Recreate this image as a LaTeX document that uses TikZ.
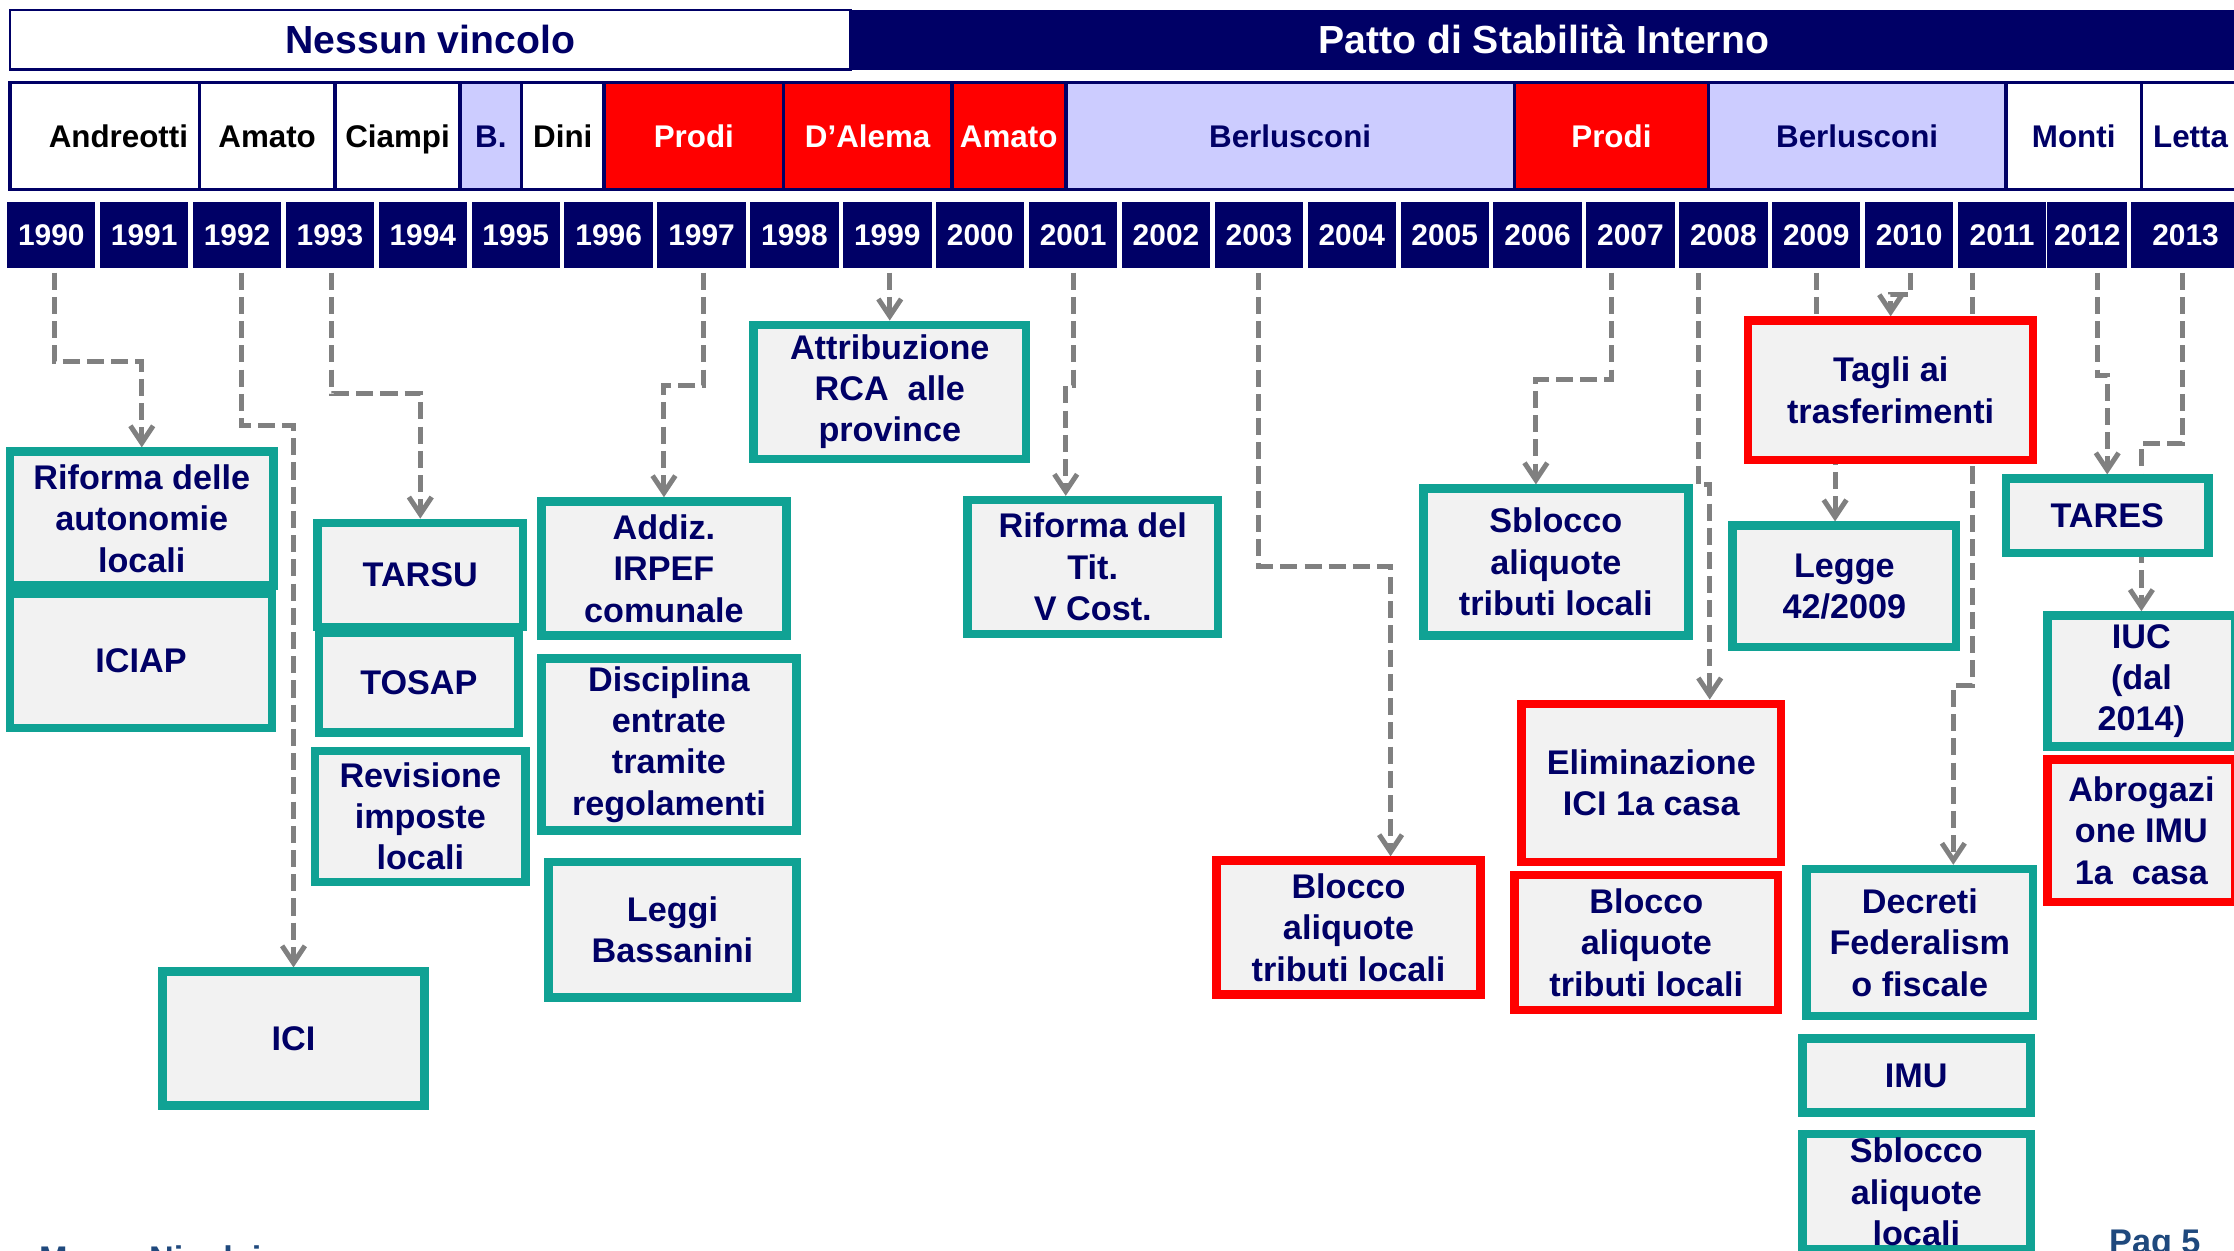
\documentclass[tikz,border=0pt]{standalone}
\usepackage{fontspec}
\setmainfont{Liberation Sans}
\usetikzlibrary{arrows.meta,calc}

\definecolor{navy}{HTML}{000066}
\definecolor{boxteal}{HTML}{10A294}
\definecolor{boxfill}{HTML}{F2F2F2}
\definecolor{govlav}{HTML}{CCCCFF}
\definecolor{linkgray}{HTML}{808080}
\definecolor{footblue}{HTML}{1F497D}

\pgfdeclarelayer{background}
\pgfsetlayers{background,main}

% event box: name, x1, y1, x2, y2 (outer edges), style, text
\newcommand\tbox[7]{%
  \node[#6, minimum width={(#4-#2-6)*0.5pt}, minimum height={(#5-#3-6)*0.5pt}]
    (#1) at ({(#2+#4)/2},{(#3+#5)/2}) {#7};}
% government cell: name, x1, x2, fill, text colour, text
\newcommand\govcell[6]{%
  \node[govbox, fill=#4, text=#5, minimum width={(#3-#2)*0.5pt}]
    (#1) at ({(#2+#3)/2},95.5) {#6};}

\begin{document}
\begin{tikzpicture}[x=0.5pt,y=-0.5pt,
  tealbox/.style={draw=boxteal, line width=3pt, fill=boxfill, text=navy,
    font=\bfseries\fontsize{12}{14.5}\selectfont, align=center, inner sep=0pt},
  redbox/.style={tealbox, draw=red},
  govbox/.style={draw=navy, line width=1.25pt, minimum height=37.5pt, inner sep=0pt,
    font=\bfseries\fontsize{11}{13}\selectfont, text height=7.9pt, text depth=0pt},
  yearcell/.style={fill=navy, text=white, font=\bfseries\fontsize{10.5}{12}\selectfont,
    minimum width=31pt, minimum height=23.25pt, inner sep=0pt, text height=7.5pt, text depth=0pt},
  topcell/.style={inner sep=0pt, font=\bfseries\fontsize{13.75}{16}\selectfont,
    text height=9.85pt, text depth=0pt},
  footer/.style={inner sep=0pt, text=footblue, font=\bfseries\fontsize{12}{14}\selectfont},
  link/.style={draw=linkgray, line width=1.75pt, dash pattern=on 6pt off 2.5pt,
    shorten <=1.5pt, -{Straight Barb[length=6pt,width=8pt]}},
]
\useasboundingbox (0,0) rectangle (1568,878);
\clip (0,0) rectangle (1568,878);

% fiscal rule periods
\node[topcell, draw=navy, line width=1pt, fill=white, text=navy,
  minimum width=295pt, minimum height=21pt] (nessun) at (302,28) {Nessun vincolo};
\node[topcell, fill=navy, text=white, minimum width=486.5pt, minimum height=21pt]
  (patto) at (1083.5,28) {Patto di Stabilità Interno};

% governments
\node[govbox, fill=white, text=black, minimum width=66.5pt, text width=58.5pt,
  inner xsep=4pt, align=right] (gAndreotti) at (73.5,95.5) {Andreotti};
\govcell{gAmato}{140}{235}{white}{black}{Amato}
\govcell{gCiampi}{235}{323}{white}{black}{Ciampi}
\govcell{gB}{323}{366}{govlav}{navy}{B.}
\govcell{gDini}{366}{424}{white}{black}{Dini}
\govcell{gProdi}{424}{550}{red}{white}{Prodi}
\govcell{gDAlema}{550}{668}{red}{white}{D’Alema}
\govcell{gAmatoB}{668}{748}{red}{white}{Amato}
\govcell{gBerlusconi}{748}{1063}{govlav}{navy}{Berlusconi}
\govcell{gProdiB}{1063}{1199}{red}{white}{Prodi}
\govcell{gBerlusconiB}{1199}{1408}{govlav}{navy}{Berlusconi}
\govcell{gMonti}{1408}{1503}{white}{navy}{Monti}
\govcell{gLetta}{1503}{1572}{white}{navy}{Letta}

% years
\foreach \yr [count=\i from 0] in {1990,...,2011}
  \node[yearcell] (y\yr) at ({36+\i*65.2},164.75) {\yr};
\node[yearcell, minimum width=28pt] (y2012) at (1465,164.75) {2012};
\node[yearcell, minimum width=38pt] (y2013) at (1534,164.75) {2013};

% events
\tbox{raut}{4}{314}{195}{414}{tealbox}{Riforma delle\\autonomie\\locali}
\tbox{iciap}{4}{414}{194}{514}{tealbox}{ICIAP}
\tbox{ici}{111}{679}{301}{779}{tealbox}{ICI}
\tbox{tarsu}{220}{364}{370}{443}{tealbox}{TARSU}
\tbox{tosap}{221}{441}{367}{517}{tealbox}{TOSAP}
\tbox{revis}{218}{524}{372}{622}{tealbox}{Revisione\\imposte\\locali}
\tbox{addiz}{377}{349}{555}{449}{tealbox}{Addiz.\\IRPEF\\comunale}
\tbox{discip}{377}{459}{562}{586}{tealbox}{Disciplina\\entrate\\tramite\\regolamenti}
\tbox{bassa}{382}{602}{562}{703}{tealbox}{Leggi\\Bassanini}
\tbox{rca}{526}{225}{723}{325}{tealbox}{Attribuzione\\RCA\ \ alle\\province}
\tbox{rtit}{676}{348}{858}{448}{tealbox}{Riforma del\\Tit.\\V Cost.}
\tbox{bloccoA}{851}{601}{1042}{701}{redbox}{Blocco\\aliquote\\tributi locali}
\tbox{sbloccoA}{996}{340}{1188}{449}{tealbox}{Sblocco\\aliquote\\tributi locali}
\tbox{elim}{1065}{491}{1253}{608}{redbox}{Eliminazione\\ICI 1a casa}
\tbox{bloccoB}{1060}{611}{1251}{712}{redbox}{Blocco\\aliquote\\tributi locali}
\tbox{tagli}{1224}{222}{1430}{326}{redbox}{Tagli ai\\trasferimenti}
\tbox{legge}{1213}{366}{1376}{457}{tealbox}{Legge\\42/2009}
\tbox{decreti}{1265}{607}{1430}{716}{tealbox}{Decreti\\Federalism\\o fiscale}
\tbox{imu}{1262}{726}{1428}{784}{tealbox}{IMU}
\tbox{sbloccoB}{1262}{793}{1428}{880}{tealbox}{Sblocco\\aliquote\\locali}
\tbox{tares}{1405}{333}{1553}{391}{tealbox}{TARES}
\tbox{iuc}{1434}{429}{1572}{527}{tealbox}{IUC\\(dal\\2014)}
\tbox{abrog}{1434}{530}{1572}{636}{redbox}{Abrogazi\\one IMU\\1a\ \ casa}

% footer
\node[footer, anchor=base west] (author) at (27,892) {Marco Nicolai};
\node[footer, anchor=base west] (page) at (1480,880) {Pag 5};

% links from years to events, behind the boxes
\begin{pgfonlayer}{background}
\draw[link] ($(y1990.south)+(2,0)$) -- ++(0,65) -| (raut.north);
\draw[link] ($(y1992.south)+(2.8,0)$) -- ++(0,110) -| (ici.north);
\draw[link] ($(y1993.south)+(1.4,0)$) -- ++(0,88) -| (tarsu.north);
\draw[link] ($(y1997.south)+(1.6,0)$) -- ++(0,82) -| (addiz.north);
\draw[link] (rca.north |- y1999.south) -- (rca.north);
\draw[link] (y2001.south) -- ++(0,82) -| ($(rtit.north)+(-19,0)$);
\draw[link] (y2003.south) -- ++(0,209) -| ($(bloccoA.north)+(29.5,0)$);
\draw[link] ($(y2007.south)+(-13.4,0)$) -- ++(0,78) -| ($(sbloccoA.north)+(-14,0)$);
\draw[link] ($(y2008.south)+(-17.6,0)$) -- ++(0,152) -| ($(elim.north)+(41,0)$);
\draw[link] (y2009.south) -- ++(0,102) -| ($(legge.north)+(-6.5,0)$);
\draw[link] ($(y2010.south)+(1,0)$) -- ++(0,18) -| (tagli.north);
\draw[link] ($(y2011.south)+(-21,0)$) -- ++(0,293) -| ($(decreti.north)+(23.5,0)$);
\draw[link] ($(y2012.south)+(7,0)$) -- ++(0,75) -| (tares.north);
\draw[link] ($(y2013.south)+(-2,0)$) -- ++(0,123) -| (iuc.north);
\end{pgfonlayer}
\end{tikzpicture}
\end{document}
